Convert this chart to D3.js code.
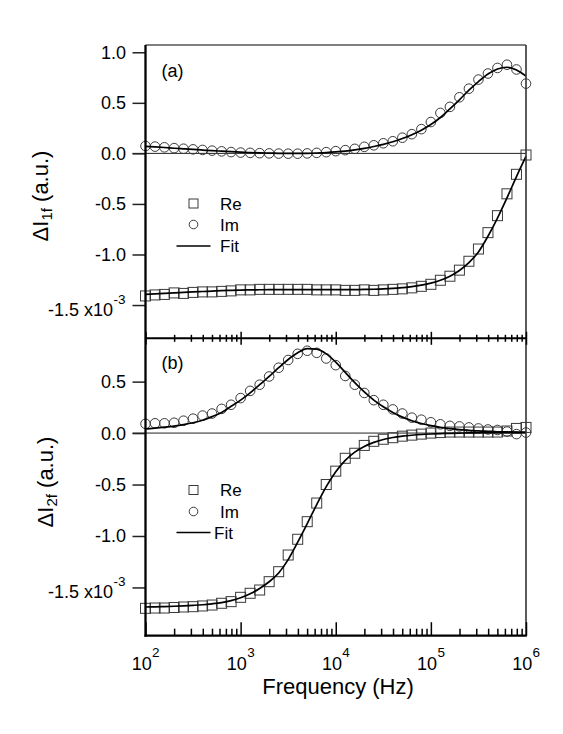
<!DOCTYPE html>
<html><head><meta charset="utf-8">
<script src="https://cdn.jsdelivr.net/npm/d3@7"></script>
<style>
body{margin:0;background:#fff}
text{font-family:"Liberation Sans",Arial,sans-serif;fill:#000}
</style>
</head><body>
<svg id="c" width="563" height="734"></svg>
<script>
// ---------------- data ----------------
const freq = [100,126,158,200,251,316,398,501,631,794,
  1000,1259,1585,1995,2512,3162,3981,5012,6310,7943,
  10000,12589,15849,19953,25119,31623,39811,50119,63096,79433,
  100000,125893,158489,199526,251189,316228,398107,501187,630957,794328,1000000];

// panel (a) : ΔI_1f
const reA = [-1.41,-1.40,-1.395,-1.38,-1.385,-1.375,-1.37,-1.37,-1.365,-1.36,
  -1.35,-1.35,-1.345,-1.345,-1.345,-1.345,-1.345,-1.345,-1.35,-1.35,
  -1.35,-1.355,-1.355,-1.35,-1.355,-1.35,-1.345,-1.34,-1.33,-1.315,
  -1.295,-1.255,-1.215,-1.155,-1.067,-0.946,-0.784,-0.616,-0.40,-0.207,-0.016];
const imA = [0.073,0.067,0.060,0.052,0.046,0.040,0.034,0.027,0.020,0.013,
  0.008,0.005,0.002,0.000,-0.002,-0.003,-0.003,0.000,0.005,0.012,
  0.022,0.032,0.045,0.065,0.080,0.100,0.120,0.155,0.190,0.240,
  0.310,0.400,0.460,0.555,0.640,0.730,0.790,0.845,0.877,0.830,0.690];
const reAFit = [-1.395,-1.39,-1.385,-1.38,-1.375,-1.37,-1.366,-1.362,-1.358,-1.355,
  -1.352,-1.35,-1.349,-1.348,-1.348,-1.348,-1.348,-1.348,-1.348,-1.348,
  -1.348,-1.348,-1.347,-1.346,-1.344,-1.341,-1.336,-1.328,-1.318,-1.303,
  -1.283,-1.255,-1.215,-1.158,-1.08,-0.975,-0.82,-0.64,-0.44,-0.23,-0.03];
const imAFit = [0.070,0.064,0.058,0.051,0.045,0.039,0.033,0.027,0.022,0.017,
  0.012,0.008,0.005,0.003,0.001,0.000,0.000,0.001,0.004,0.008,
  0.014,0.022,0.034,0.049,0.068,0.089,0.115,0.147,0.185,0.230,
  0.285,0.355,0.440,0.530,0.625,0.710,0.785,0.835,0.852,0.825,0.765];

// panel (b) : ΔI_2f
const reB = [-1.703,-1.70,-1.70,-1.695,-1.69,-1.687,-1.68,-1.671,-1.654,-1.638,
  -1.596,-1.557,-1.525,-1.444,-1.347,-1.185,-1.032,-0.861,-0.68,-0.50,
  -0.37,-0.245,-0.196,-0.12,-0.08,-0.06,-0.045,-0.03,-0.02,-0.01,
  0.0,0.005,0.01,0.01,0.01,0.01,0.01,0.01,0.02,0.045,0.055];
const imB = [0.09,0.095,0.095,0.10,0.12,0.14,0.17,0.19,0.235,0.275,
  0.34,0.41,0.47,0.55,0.635,0.71,0.77,0.80,0.78,0.725,
  0.66,0.555,0.47,0.39,0.32,0.275,0.23,0.19,0.15,0.13,
  0.105,0.085,0.07,0.065,0.055,0.045,0.035,0.03,0.015,-0.01,0.005];
const reBFit = [-1.690,-1.688,-1.686,-1.683,-1.679,-1.674,-1.668,-1.659,-1.647,-1.628,
  -1.600,-1.562,-1.510,-1.445,-1.360,-1.230,-1.060,-0.880,-0.695,-0.520,
  -0.375,-0.265,-0.185,-0.130,-0.090,-0.062,-0.043,-0.030,-0.021,-0.014,
  -0.009,-0.005,-0.002,0.000,0.002,0.003,0.004,0.005,0.005,0.006,0.006];
const imBFit = [0.040,0.048,0.057,0.068,0.082,0.100,0.125,0.160,0.200,0.260,
  0.320,0.390,0.470,0.550,0.635,0.715,0.780,0.820,0.815,0.770,
  0.690,0.590,0.490,0.400,0.320,0.255,0.200,0.155,0.120,0.093,
  0.072,0.056,0.044,0.034,0.027,0.021,0.017,0.013,0.011,0.009,0.007];

// ticks & texts
const yTicksA = [1.0,0.5,0.0,-0.5,-1.0,-1.5];
const yTicksB = [0.5,0.0,-0.5,-1.0,-1.5];
const yTickLabelsA = ["1.0","0.5","0.0","-0.5","-1.0","-1.5"];
const yTickLabelsB = ["0.5","0.0","-0.5","-1.0","-1.5"];
const yScaleNote = " x10";
const yScaleExp = "-3";
const xMajor = [1e2,1e3,1e4,1e5,1e6];
const xMajorExp = ["2","3","4","5","6"];
const legendLabels = ["Re","Im","Fit"];
const panelLabels = ["(a)","(b)"];
const yTitleSub = ["1f","2f"];
const xTitle = "Frequency (Hz)";

// ---------------- layout ----------------
const svg = d3.select("#c");
svg.append("rect").attr("width",563).attr("height",734).attr("fill","#fff");
const X0 = 145.5, X1 = 526, YT = 45, YM = 338.3, YB = 635.7;
const x = d3.scaleLog().domain([1e2,1e6]).range([X0,X1]);
const yA = d3.scaleLinear().domain([-1.829,1.072]).range([YM,YT]);
const yB = d3.scaleLinear().domain([-1.969,0.921]).range([YB,YM]);

const xMinor = [];
[1e2,1e3,1e4,1e5].forEach(d => { for (let k=2;k<=9;k++) xMinor.push(d*k); });

function panel(p) {
  const g = svg.append("g");
  // zero line
  g.append("line").attr("x1",X0-13).attr("x2",X1)
    .attr("y1",p.y(0)).attr("y2",p.y(0))
    .attr("stroke","#222").attr("stroke-width",1);
  // y ticks
  g.append("g").attr("transform",`translate(${X0},0)`)
    .call(d3.axisLeft(p.y).tickValues(p.ticks).tickSize(13).tickFormat(""))
    .call(s => { s.select(".domain").remove();
      s.selectAll("line").attr("stroke","#222").attr("stroke-width",1.5); });
  // y tick labels
  p.ticks.forEach((t,i) => {
    const yy = p.y(t);
    if (i === p.ticks.length-1) {
      g.append("text").attr("x",113).attr("y",yy+11).attr("text-anchor","end")
        .attr("font-size",18).text(p.tickLabels[i] + yScaleNote);
      g.append("text").attr("x",113.5).attr("y",yy-1).attr("font-size",13.5).text(yScaleExp);
    } else {
      g.append("text").attr("x",126).attr("y",yy+6.5).attr("text-anchor","end")
        .attr("font-size",18).text(p.tickLabels[i]);
    }
  });
  // markers
  const sq = 10;
  g.append("g").selectAll("rect").data(p.re).join("rect")
    .attr("x",(d,i)=>x(freq[i])-sq/2).attr("y",d=>p.y(d)-sq/2)
    .attr("width",sq).attr("height",sq)
    .attr("fill","none").attr("stroke","#3a3a3a").attr("stroke-width",1);
  g.append("g").selectAll("circle").data(p.im).join("circle")
    .attr("cx",(d,i)=>x(freq[i])).attr("cy",d=>p.y(d)).attr("r",4.8)
    .attr("fill","none").attr("stroke","#3a3a3a").attr("stroke-width",1);
  // fits
  const line = d3.line().x((d,i)=>x(freq[i])).y(d=>p.y(d)).curve(d3.curveMonotoneX);
  [p.reFit,p.imFit].forEach(f => g.append("path").datum(f).attr("d",line)
    .attr("fill","none").attr("stroke","#000").attr("stroke-width",1.7));
  // panel label
  g.append("text").attr("x",161.5).attr("y",p.labelY).attr("font-size",18).text(p.label);
  // legend
  const L = p.legend;
  g.append("rect").attr("x",L.mx-4.5).attr("y",L.y[0]-4.5).attr("width",9).attr("height",9)
    .attr("fill","none").attr("stroke","#3a3a3a").attr("stroke-width",1);
  g.append("circle").attr("cx",L.mx).attr("cy",L.y[1]).attr("r",4.3)
    .attr("fill","none").attr("stroke","#3a3a3a").attr("stroke-width",1);
  g.append("line").attr("x1",176.5).attr("x2",210.5).attr("y1",L.y[2]).attr("y2",L.y[2])
    .attr("stroke","#000").attr("stroke-width",1.7);
  legendLabels.forEach((t,i) => g.append("text").attr("x",L.tx[i]).attr("y",L.y[i]+6)
    .attr("font-size",17).text(t));
  // y title
  const tt = g.append("text").attr("transform",`translate(${p.titleX},${p.titleY}) rotate(-90)`)
    .attr("text-anchor","middle").attr("font-size",22);
  tt.append("tspan").text("ΔI");
  tt.append("tspan").attr("font-size",15).attr("dy",4).text(p.sub);
  tt.append("tspan").attr("dy",-4).text(" (a.u.)");
}

panel({y:yA, ticks:yTicksA, tickLabels:yTickLabelsA, re:reA, im:imA, reFit:reAFit, imFit:imAFit,
  label:panelLabels[0], labelY:76.5, sub:yTitleSub[0], titleX:48, titleY:196,
  legend:{mx:193.5, y:[203.5,224.5,246], tx:[220,220,220]}});
panel({y:yB, ticks:yTicksB, tickLabels:yTickLabelsB, re:reB, im:imB, reFit:reBFit, imFit:imBFit,
  label:panelLabels[1], labelY:368.5, sub:yTitleSub[1], titleX:53, titleY:482,
  legend:{mx:193.5, y:[490,511.5,532.5], tx:[220,220,214]}});

// frame
svg.append("line").attr("x1",X0).attr("x2",X1).attr("y1",YT).attr("y2",YT)
  .attr("stroke","#555").attr("stroke-width",1.5);
svg.append("line").attr("x1",X1).attr("x2",X1).attr("y1",YT).attr("y2",YB)
  .attr("stroke","#333").attr("stroke-width",1.6);
svg.append("line").attr("x1",X0).attr("x2",X0).attr("y1",YT).attr("y2",YB+1)
  .attr("stroke","#000").attr("stroke-width",2.3);

// separator axis (ticks crossing)
function styleAxis(s){ s.select(".domain").remove();
  s.selectAll("line").attr("stroke","#000").attr("stroke-width",1.5); }
const sep = svg.append("g").attr("transform",`translate(0,${YM})`);
sep.append("line").attr("x1",X0).attr("x2",X1).attr("stroke","#000").attr("stroke-width",2);
sep.append("g").call(d3.axisTop(x).tickValues(xMajor).tickSize(6.5).tickFormat("")).call(styleAxis);
sep.append("g").call(d3.axisBottom(x).tickValues(xMajor).tickSize(6.5).tickFormat("")).call(styleAxis);
sep.append("g").call(d3.axisTop(x).tickValues(xMinor).tickSize(3.5).tickFormat("")).call(styleAxis);
sep.append("g").call(d3.axisBottom(x).tickValues(xMinor).tickSize(3.5).tickFormat("")).call(styleAxis);

// bottom axis (ticks inward)
const bot = svg.append("g").attr("transform",`translate(0,${YB})`);
bot.append("line").attr("x1",X0-1).attr("x2",X1+0.8).attr("stroke","#000").attr("stroke-width",2.2);
bot.append("g").call(d3.axisBottom(x).tickValues(xMajor).tickSize(-13.5).tickFormat("")).call(styleAxis);
bot.append("g").call(d3.axisBottom(x).tickValues(xMinor).tickSize(-7).tickFormat("")).call(styleAxis);

// x tick labels
xMajor.forEach((v,i) => {
  const cx = x(v);
  svg.append("text").attr("x",cx-13.8).attr("y",669.5).attr("font-size",18).text("10");
  svg.append("text").attr("x",cx+6.5).attr("y",657).attr("font-size",13.5).text(xMajorExp[i]);
});
svg.append("text").attr("x",338).attr("y",693.5).attr("text-anchor","middle")
  .attr("font-size",22).text(xTitle);
</script>
</body></html>
